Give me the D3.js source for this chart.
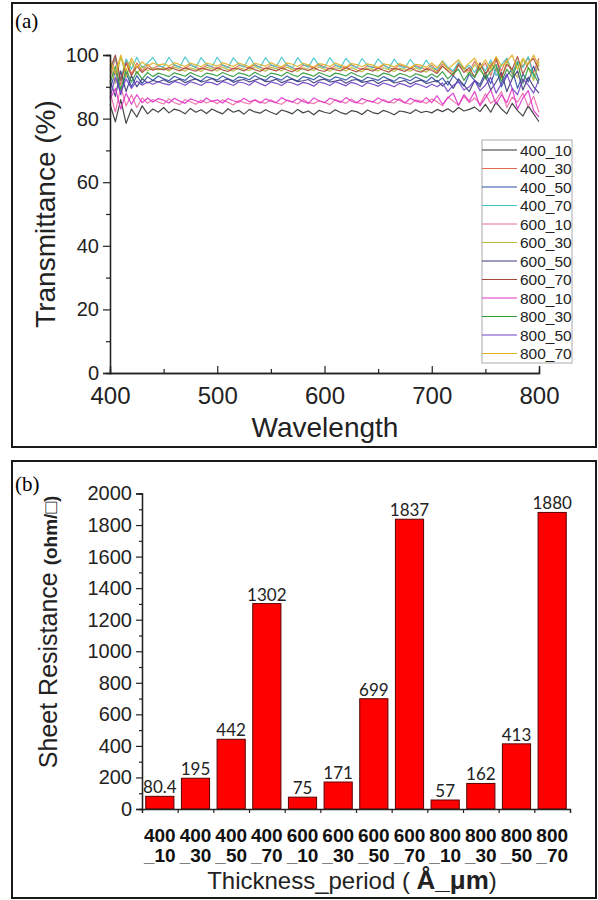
<!DOCTYPE html>
<html><head><meta charset="utf-8">
<script src="https://cdn.jsdelivr.net/npm/d3@7"></script>
<style>body{margin:0;background:#fff}svg{display:block}</style>
</head><body><svg id="c" width="598" height="900"></svg>
<script>
// ---------- DATA ----------
const wavelengths = d3.range(400, 801, 5);
const seriesNames = ["400_10","400_30","400_50","400_70","600_10","600_30","600_50","600_70","800_10","800_30","800_50","800_70"];
const s400_10 = [84.5,79.0,86.0,78.5,83.0,80.5,84.0,81.5,83.0,82.0, 83.5,81.8,83.0,82.5,81.5,83.2,82.0,82.8,81.6,83.0, 82.2,81.5,83.1,82.0,82.6,81.4,82.9,82.1,81.7,82.8, 82.0,81.3,82.7,82.2,81.5,82.9,81.8,82.4,81.2,82.6, 82.0,81.6,82.8,81.9,81.4,82.5,82.2,81.3,82.7,81.9, 81.5,82.6,82.0,81.2,82.4,82.1,81.6,82.8,81.9,82.3, 81.8,82.9,82.2,83.1,82.0,83.5,82.4,82.9,83.6,82.2, 84.5,82.0,85.2,83.0,81.5,84.8,82.5,80.8,84.0,81.5, 79.0];
const s400_30 = [93.0,99.0,90.5,98.5,94.0,97.5,95.0,97.0,95.5,96.8, 96.0,95.4,96.9,96.2,95.6,97.0,96.1,95.5,96.8,96.3, 95.7,96.9,96.2,95.5,96.7,96.4,95.8,97.0,96.1,95.6, 96.8,96.3,95.7,96.9,96.0,95.5,96.8,96.4,95.9,97.0, 96.2,95.6,96.7,96.3,95.8,96.9,96.1,95.4,96.6,96.2, 95.7,96.8,96.0,95.5,96.9,96.3,95.6,96.7,96.1,95.3, 96.8,95.0,97.2,95.8,94.5,97.5,96.0,94.8,98.0,95.5, 97.5,93.5,98.5,95.0,99.0,94.0,98.0,96.5,99.2,94.5, 99.0];
const s400_50 = [89.0,95.0,87.5,94.5,90.0,93.5,91.0,93.2,92.0,93.4, 92.5,91.9,93.3,92.6,92.0,93.5,92.4,91.8,93.2,92.7, 92.1,93.4,92.5,91.9,93.1,92.8,92.2,93.5,92.6,92.0, 93.3,92.7,92.1,93.4,92.4,91.8,93.2,92.8,92.2,93.5, 92.6,92.0,93.1,92.7,92.1,93.3,92.5,91.8,93.0,92.6, 92.0,93.2,92.4,91.7,93.0,92.5,91.9,93.1,92.3,91.6, 93.0,91.5,92.8,90.5,93.5,91.8,90.2,94.0,92.0,90.8, 94.5,91.0,96.0,90.0,93.5,95.5,89.5,94.0,91.5,96.5, 92.0];
const s400_70 = [95.0,99.5,92.0,98.8,95.5,99.3,96.0,97.5,99.2,96.5, 96.3,99.3,96.8,96.2,99.4,96.9,96.1,99.2,97.0,96.3, 99.3,96.8,96.0,99.1,97.1,96.2,99.4,96.7,96.1,99.2, 96.9,96.3,99.3,96.8,96.0,99.2,97.0,96.2,99.1,96.6, 96.0,99.2,96.9,96.1,99.0,96.8,96.0,98.9,96.7,95.9, 98.8,96.9,95.8,98.7,96.5,95.9,98.6,96.3,95.7,98.4, 96.0,95.5,98.2,96.2,95.0,97.8,95.5,96.8,94.5,97.5, 95.0,98.5,93.5,97.0,99.0,94.5,98.0,96.0,99.5,93.0, 97.0];
const s600_10 = [88.5,82.0,90.0,84.0,87.5,83.5,86.5,84.8,86.0,85.2, 84.6,86.2,85.0,84.4,86.0,85.3,84.5,85.8,84.9,85.6, 84.7,85.9,85.1,84.3,85.7,85.0,84.6,86.0,85.2,84.8, 85.9,84.9,84.5,85.8,85.3,84.6,86.1,85.0,84.7,85.6, 85.1,84.4,85.9,85.4,84.8,86.2,85.1,84.6,85.7,85.3, 84.7,86.0,85.2,84.9,86.3,85.0,84.5,85.9,85.5,84.8, 86.2,85.3,84.0,86.8,85.5,84.2,87.0,85.0,86.5,84.5, 87.8,84.8,86.0,88.5,83.5,86.8,85.2,88.0,83.8,87.0, 82.0];
const s600_30 = [97.0,91.0,99.5,93.0,98.0,94.0,96.5,95.0,96.0,95.3, 95.8,95.0,96.2,95.6,94.9,96.0,95.5,94.8,96.1,95.7, 95.0,96.2,95.4,94.9,96.0,95.6,95.1,96.3,95.5,94.9, 96.1,95.7,95.0,96.2,95.4,94.8,96.0,95.6,95.1,96.2, 95.5,94.9,96.0,95.7,95.0,96.1,95.3,94.7,95.9,95.5, 95.0,96.0,95.4,94.8,95.8,95.5,94.9,96.0,95.2,94.6, 96.0,94.5,96.5,95.0,93.8,96.8,95.5,94.0,97.0,95.0, 93.5,97.5,95.5,92.5,98.0,95.0,93.0,98.5,96.0,92.0, 98.0];
const s600_50 = [92.0,87.0,95.0,88.5,93.5,90.0,92.5,91.2,92.0,91.5, 92.2,91.4,91.9,92.4,91.3,92.0,92.5,91.5,91.9,92.6, 91.6,91.9,92.5,91.4,92.0,92.3,91.5,92.1,92.6,91.6, 91.8,92.4,91.3,92.0,92.5,91.6,91.9,92.3,91.2,92.1, 92.4,91.5,91.8,92.2,91.1,92.0,92.3,91.4,91.7,92.1, 91.0,91.9,92.2,91.2,91.6,92.0,90.9,91.7,92.1,91.0, 91.5,92.0,90.2,91.8,89.5,92.5,90.5,88.5,92.0,90.0, 93.5,89.0,91.5,94.5,88.5,92.5,95.0,89.0,93.0,90.0, 88.0];
const s600_70 = [95.5,100.0,92.0,97.5,93.5,96.5,94.5,96.0,95.2,95.8, 95.3,96.1,95.6,95.0,96.0,95.4,94.9,95.9,95.5,95.0, 96.0,95.3,94.8,95.8,95.6,95.0,96.1,95.4,94.8,95.9, 95.5,95.0,96.0,95.3,94.7,95.8,95.6,95.1,96.0,95.2, 94.8,95.9,95.4,95.0,96.1,95.3,94.7,95.7,95.5,94.9, 95.9,95.2,94.6,95.8,95.4,94.8,95.9,95.1,94.6,95.7, 95.2,94.2,96.5,95.0,93.5,97.0,94.5,96.0,93.0,97.5, 94.0,96.5,99.0,93.0,97.0,95.5,99.5,94.0,97.5,99.0, 95.0];
const s800_10 = [86.0,89.5,83.0,88.0,84.5,87.5,85.0,86.5,85.2,86.3, 85.8,84.9,86.4,85.5,84.8,86.2,85.6,85.0,86.5,85.4, 85.9,84.9,86.3,85.6,85.1,86.4,85.3,85.8,84.9,86.2, 85.5,85.0,86.6,85.7,85.2,86.3,85.4,84.8,86.5,85.6, 85.0,86.4,85.8,85.1,86.6,85.5,84.9,86.3,85.7,85.2, 86.5,85.6,85.0,86.2,85.8,84.9,86.4,85.5,85.1,86.6, 85.0,87.2,84.5,86.5,88.0,84.2,87.5,85.5,88.5,84.0, 86.5,89.0,84.5,87.5,85.0,89.5,83.0,86.5,88.8,82.5, 80.5];
const s800_30 = [91.0,96.5,89.0,95.5,91.5,94.8,92.5,94.5,93.2,94.3, 93.8,93.2,94.4,93.9,93.3,94.5,93.7,93.1,94.3,94.0, 93.4,94.5,93.8,93.2,94.4,94.0,93.3,94.6,93.7,93.1, 94.3,94.0,93.4,94.6,93.8,93.2,94.4,93.9,93.3,94.5, 93.8,93.2,94.3,94.0,93.4,94.5,93.7,93.0,94.2,93.8, 93.2,94.3,93.9,93.1,94.2,93.8,93.0,94.1,93.6,92.9, 94.0,93.0,94.8,92.5,94.2,95.5,92.0,94.5,93.0,96.0, 92.5,95.0,97.0,91.5,95.5,93.0,97.5,91.0,96.0,94.0, 91.0];
const s800_50 = [86.5,93.0,88.0,92.5,89.5,91.8,90.5,91.5,90.8,91.6, 91.0,90.6,91.7,91.2,90.5,91.6,91.1,90.4,91.5,91.3, 90.6,91.7,91.1,90.4,91.5,91.2,90.5,91.8,91.0,90.3, 91.5,91.1,90.4,91.6,91.2,90.5,91.4,91.0,90.2,91.5, 91.1,90.4,91.6,91.0,90.3,91.4,90.9,90.1,91.3,90.8, 90.2,91.2,90.7,90.0,91.1,90.6,89.9,91.0,90.5,89.8, 90.8,90.0,91.2,88.5,90.5,91.5,89.0,90.0,92.0,88.8, 90.5,93.0,88.0,91.0,94.0,89.5,87.5,92.5,90.5,88.0, 92.5];
const s800_70 = [98.5,94.0,100.0,95.0,99.0,96.0,97.8,96.5,97.5,96.8, 97.2,96.5,97.6,97.0,96.4,97.5,96.9,96.3,97.4,97.1, 96.5,97.6,97.0,96.4,97.5,96.9,96.3,97.4,97.0,96.5, 97.6,96.8,96.3,97.5,97.1,96.4,97.4,96.9,96.2,97.3, 97.0,96.4,97.5,96.8,96.2,97.3,97.0,96.3,97.2,96.8, 96.1,97.2,96.9,96.2,97.3,96.7,96.0,97.1,96.8,96.1, 97.5,96.0,98.0,95.5,97.0,98.5,95.8,97.5,99.0,96.0, 98.5,95.5,99.5,96.5,98.0,100.0,95.5,99.0,97.0,100.0, 96.5];
const seriesValues = [s400_10,s400_30,s400_50,s400_70,s600_10,s600_30,s600_50,s600_70,s800_10,s800_30,s800_50,s800_70];
const xTicksA = [400,500,600,700,800];
const yTicksA = [0,20,40,60,80,100];

const categories = ["400_10","400_30","400_50","400_70","600_10","600_30","600_50","600_70","800_10","800_30","800_50","800_70"];
const resistance = [80.4,195,442,1302,75,171,699,1837,57,162,413,1880];
const resistanceLabels = ["80.4","195","442","1302","75","171","699","1837","57","162","413","1880"];
const yTicksB = [0,200,400,600,800,1000,1200,1400,1600,1800,2000];

// ---------- STYLE ----------
const colors = ["#333333","#e06a50","#2f4fa8","#3fc4c8","#ee6aa8","#b8b838","#3a3a7a","#a8483a","#e030c8","#2e9a3a","#7040c8","#e0b020"];
const SANS = "'Liberation Sans', Arial, sans-serif";
const SERIF = "'Liberation Serif', 'Times New Roman', serif";
const svg = d3.select("#c");

// frames
svg.append("rect").attr("x",12).attr("y",3).attr("width",584).attr("height",444).attr("fill","none").attr("stroke","#1a1a1a").attr("stroke-width",2);
svg.append("rect").attr("x",12).attr("y",461).attr("width",584).attr("height",437).attr("fill","none").attr("stroke","#1a1a1a").attr("stroke-width",2);
svg.append("text").attr("x",15).attr("y",28).attr("font-family",SERIF).attr("font-size",21).text("(a)");
svg.append("text").attr("x",15).attr("y",491).attr("font-family",SERIF).attr("font-size",21).text("(b)");

// ---------- PANEL A ----------
const xA = d3.scaleLinear().domain([400,800]).range([110,539]);
const yA = d3.scaleLinear().domain([0,100]).range([373,55]);
const gA = svg.append("g");
const line = d3.line().x((d,i)=>xA(wavelengths[i])).y(d=>yA(d));
seriesValues.forEach((vals,k)=>{
  gA.append("path").datum(vals).attr("d",line).attr("fill","none")
    .attr("stroke",colors[k]).attr("stroke-width",1.2).attr("stroke-linejoin","round").attr("opacity",0.9);
});
// axes
const yAxA = gA.append("g").attr("transform","translate(110,0)")
  .call(d3.axisLeft(yA).tickValues(yTicksA).tickSize(7).tickPadding(4));
gA.append("g").attr("transform","translate(110,0)")
  .call(d3.axisLeft(yA).tickValues([10,30,50,70,90]).tickSize(4).tickFormat(""));
const xAxA = gA.append("g").attr("transform","translate(0,373)")
  .call(d3.axisBottom(xA).tickValues(xTicksA).tickSize(-7).tickPadding(14));
gA.append("g").attr("transform","translate(0,373)")
  .call(d3.axisBottom(xA).tickValues([450,550,650,750]).tickSize(-4).tickFormat(""));
gA.selectAll(".domain").attr("stroke","#222").attr("stroke-width",1.3);
gA.selectAll(".tick line").attr("stroke","#222").attr("stroke-width",1.2);
yAxA.selectAll("text").attr("font-family",SANS).attr("font-size",20).attr("fill","#222");
xAxA.selectAll("text").attr("font-family",SANS).attr("font-size",24).attr("fill","#222");
gA.append("text").attr("transform","translate(55,214) rotate(-90)").attr("text-anchor","middle")
  .attr("font-family",SANS).attr("font-size",28).attr("fill","#222").text("Transmittance (%)");
gA.append("text").attr("x",325).attr("y",437).attr("text-anchor","middle")
  .attr("font-family",SANS).attr("font-size",28).attr("fill","#222").text("Wavelength");
// legend
const leg = gA.append("g");
leg.append("rect").attr("x",482).attr("y",140).attr("width",90).attr("height",223).attr("fill","#fff").attr("stroke","#aaa").attr("stroke-width",1);
seriesNames.forEach((n,k)=>{
  const y = 150 + k*18.5;
  leg.append("line").attr("x1",482).attr("x2",517).attr("y1",y).attr("y2",y).attr("stroke",colors[k]).attr("stroke-width",1);
  leg.append("text").attr("x",520).attr("y",y).attr("dy","0.36em").attr("font-family",SANS).attr("font-size",15.5).attr("fill","#222").text(n);
});

// ---------- PANEL B ----------
const xB = d3.scaleBand().domain(categories).range([142,570]).paddingInner(0.21).paddingOuter(0.105);
const yB = d3.scaleLinear().domain([0,2000]).range([809,493.5]);
const gB = svg.append("g");
gB.selectAll("rect.bar").data(resistance).join("rect").attr("class","bar")
  .attr("x",(d,i)=>xB(categories[i])).attr("width",xB.bandwidth())
  .attr("y",d=>yB(d)).attr("height",d=>yB(0)-yB(d))
  .attr("fill","#ff0000").attr("stroke","#5a0000").attr("stroke-width",1);
gB.selectAll("text.val").data(resistanceLabels).join("text").attr("class","val")
  .attr("x",(d,i)=>xB(categories[i])+xB.bandwidth()/2).attr("y",(d,i)=>yB(resistance[i])-3)
  .attr("text-anchor","middle").attr("font-family","Lato, 'Open Sans', sans-serif").attr("font-size",17).attr("fill","#222").text(d=>d);
const yAxB = gB.append("g").attr("transform","translate(142,0)")
  .call(d3.axisLeft(yB).tickValues(yTicksB).tickFormat(d3.format("d")).tickSize(6).tickPadding(4));
gB.append("g").attr("transform","translate(142,0)")
  .call(d3.axisLeft(yB).tickValues(d3.range(100,2000,200)).tickSize(3).tickFormat(""));
const bound = d3.scaleLinear().domain([0,categories.length]).range(xB.range());
gB.append("g").attr("transform","translate(0,809)")
  .call(d3.axisBottom(bound).tickValues(d3.range(categories.length+1)).tickSize(4).tickFormat(""));
gB.selectAll(".domain").attr("stroke","#222").attr("stroke-width",1.3);
gB.selectAll(".tick line").attr("stroke","#222").attr("stroke-width",1.2);
yAxB.selectAll("text").attr("font-family",SANS).attr("font-size",20).attr("fill","#222");
const catG = gB.append("g");
categories.forEach(c=>{
  const parts = c.split("_");
  const cx = xB(c)+xB.bandwidth()/2;
  catG.append("text").attr("x",cx).attr("y",842).attr("text-anchor","middle").attr("font-family",SANS)
    .attr("font-weight","bold").attr("font-size",19).attr("fill","#111").text(parts[0]);
  catG.append("text").attr("x",cx).attr("y",862).attr("text-anchor","middle").attr("font-family",SANS)
    .attr("font-weight","bold").attr("font-size",19).attr("fill","#111").text("_"+parts[1]);
});
const yt = gB.append("text").attr("transform","translate(57,632) rotate(-90)").attr("text-anchor","middle")
  .attr("font-family",SANS).attr("fill","#222");
yt.append("tspan").attr("font-size",25).text("Sheet Resistance ");
yt.append("tspan").attr("font-size",19).attr("font-weight","bold").text("(ohm/\u25A1)");
const xt = gB.append("text").attr("x",352).attr("y",889).attr("text-anchor","middle").attr("font-family",SANS).attr("fill","#222");
xt.append("tspan").attr("font-size",24).text("Thickness_period ( ");
xt.append("tspan").attr("font-size",26).attr("font-weight","bold").text("\u00C5_\u03BCm");
xt.append("tspan").attr("font-size",24).text(")");
</script></body></html>
